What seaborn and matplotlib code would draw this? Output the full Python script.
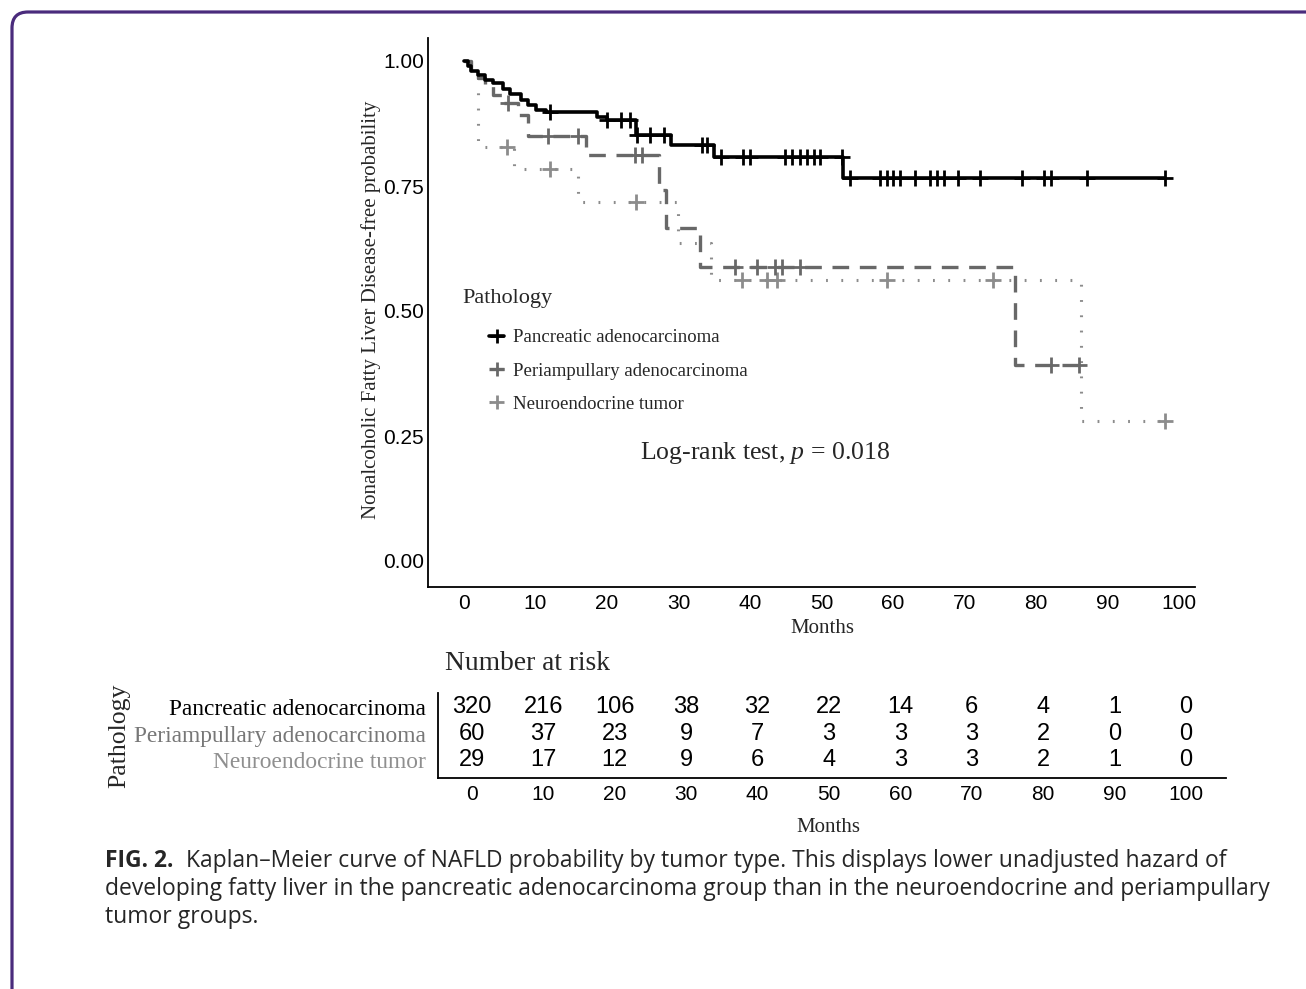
import numpy as np
import pandas as pd
import matplotlib
matplotlib.use("Agg")
import matplotlib.pyplot as plt
import seaborn as sns
from matplotlib.lines import Line2D
from matplotlib.patches import FancyBboxPatch
from matplotlib.transforms import IdentityTransform

# ---------------- data ----------------
groups = ["Pancreatic adenocarcinoma", "Periampullary adenocarcinoma", "Neuroendocrine tumor"]

panc_times = [0, 0.5, 1, 2, 3, 4, 5.5, 6.5, 8, 9, 10, 11.5, 18.6, 20, 24, 29, 35, 53]
panc_surv = [1.0, 0.99, 0.98, 0.972, 0.962, 0.956, 0.945, 0.935, 0.922, 0.912, 0.902, 0.898,
             0.888, 0.882, 0.853, 0.832, 0.808, 0.766]
panc_end = 98
panc_censor = [12, 20, 22, 23.2, 24.2, 26, 28, 33.3, 34, 36, 39, 40, 44.9, 45.9, 47, 48, 49, 49.8,
               52.9, 54, 58.2, 59.2, 60, 61, 63.1, 65.2, 66.2, 67.1, 69.1, 72.2, 78, 81.1, 82.1, 87.1, 98]

peri_times = [0, 1, 2, 3, 4, 5.5, 7.5, 9, 17, 27.2, 28.2, 33, 77]
peri_surv = [1.0, 0.983, 0.967, 0.95, 0.933, 0.916, 0.892, 0.85, 0.812, 0.742, 0.666, 0.588, 0.392]
peri_end = 86
peri_censor = [6.2, 11.8, 16, 23.9, 24.9, 37.9, 41, 43.5, 44.5, 47, 82, 86]

neuro_times = [0, 1, 2, 7, 16, 29.9, 34.5, 86.2]
neuro_surv = [1.0, 0.966, 0.828, 0.785, 0.718, 0.636, 0.562, 0.281]
neuro_end = 98
neuro_censor = [6, 12, 24, 38.9, 42.4, 43.8, 59.2, 74, 98]

risk_times = [0, 10, 20, 30, 40, 50, 60, 70, 80, 90, 100]
panc_risk = [320, 216, 106, 38, 32, 22, 14, 6, 4, 1, 0]
peri_risk = [60, 37, 23, 9, 7, 3, 3, 3, 2, 0, 0]
neuro_risk = [29, 17, 12, 9, 6, 4, 3, 3, 2, 1, 0]

x_ticks = [0, 10, 20, 30, 40, 50, 60, 70, 80, 90, 100]
y_ticks = [0.0, 0.25, 0.5, 0.75, 1.0]

# ---------------- style ----------------
sns.set_theme(style="white")
plt.rcParams["font.family"] = ["Liberation Sans", "DejaVu Sans"]
plt.rcParams["mathtext.fontset"] = "custom"
plt.rcParams["mathtext.rm"] = "Liberation Serif"
plt.rcParams["mathtext.it"] = "Liberation Serif:italic"
SERIF = ["Liberation Serif", "DejaVu Serif"]

W, H = 1306, 989
fig = plt.figure(figsize=(W / 100, H / 100), dpi=100)


def px_axes(left, top, right, bottom):
    return fig.add_axes([left / W, 1 - bottom / H, (right - left) / W, (bottom - top) / H])


colors = ["#000000", "#686868", "#8c8c8c"]
lws = [2.6, 2.4, 2.2]
dashes = [None, (5, 3.2), (0.6, 4.4)]

# ---------------- main KM axes ----------------
ax = px_axes(428, 38, 1195, 587)
ax.set_xlim(-5.03, 102.2)
ax.set_ylim(-0.052, 1.046)

series = [
    (panc_times, panc_surv, panc_end, panc_censor),
    (peri_times, peri_surv, peri_end, peri_censor),
    (neuro_times, neuro_surv, neuro_end, neuro_censor),
]

for i, (t, s, end, cens) in enumerate(series):
    df = pd.DataFrame({"Months": list(t) + [end], "Survival": list(s) + [s[-1]]})
    sns.lineplot(data=df, x="Months", y="Survival", drawstyle="steps-post", estimator=None,
                 sort=False, color=colors[i], lw=lws[i], ax=ax, zorder=3 - i)
    line = ax.lines[-1]
    if dashes[i] is not None:
        line.set_dashes(dashes[i])
        line.set_dash_capstyle("butt")
    idx = np.searchsorted(np.array(t), np.array(cens), side="right") - 1
    cy = np.array(s)[idx]
    sns.scatterplot(x=cens, y=cy, marker="+", s=120, color=colors[i], linewidth=2.0,
                    ax=ax, zorder=4 - i, legend=False)

for sp in ["top", "right"]:
    ax.spines[sp].set_visible(False)
for sp in ["left", "bottom"]:
    ax.spines[sp].set_color("black")
    ax.spines[sp].set_linewidth(1.3)

ax.set_xticks(x_ticks)
ax.set_xticklabels([str(v) for v in x_ticks], fontsize=15)
ax.set_yticks(y_ticks)
ax.set_yticklabels([f"{v:.2f}" for v in y_ticks], fontsize=15)
ax.tick_params(axis="both", direction="out", length=3, width=1, colors="black", pad=2, labelcolor="black")
ax.tick_params(axis="y", pad=0)
ax.set_xlabel("Months", family=SERIF, fontsize=15)
ax.xaxis.set_label_coords((822 - 428) / (1195 - 428), -(619 - 587) / (587 - 38))
ax.set_ylabel("Nonalcoholic Fatty Liver Disease-free probability", family=SERIF, fontsize=15)
ax.yaxis.set_label_coords(-(428 - 381) / (1195 - 428), (587 - 310) / (587 - 38))

# legend
ax.text((462 - 464) / 7.15, (561 - 298) / 500, "Pathology", family=SERIF, fontsize=16,
        ha="left", va="center")
handles = [Line2D([], [], color=colors[i], lw=lws[i], marker="+", markersize=10, mew=2,
                  dashes=dashes[i] if dashes[i] else (None, None)) for i in range(3)]
handles[0].set_linestyle("-")
ax.legend(handles, groups, loc="upper left", bbox_to_anchor=(480 / W, 1 - 320 / H),
          bbox_transform=fig.transFigure, frameon=False, handlelength=0.8, handletextpad=0.45,
          labelspacing=0.85, borderpad=0, prop={"family": SERIF, "size": 13.5})

ax.text((640 - 464) / 7.15, (561 - 453) / 500, "Log-rank test, $\\mathit{p}$ = 0.018",
        family=SERIF, fontsize=18.5, ha="left", va="center")

# ---------------- risk table ----------------
rax = px_axes(438, 693, 1226, 778)
rax.set_xlim(-4.76, 105.6)
rax.set_ylim(2.68, -0.53)
risk = [panc_risk, peri_risk, neuro_risk]
label_colors = ["#000000", "#777777", "#8f8f8f"]
for r, vals in enumerate(risk):
    for tt, v in zip(risk_times, vals):
        rax.text(tt, r, str(v), ha="center", va="center", fontsize=17, color="black")
for sp in ["top", "right"]:
    rax.spines[sp].set_visible(False)
for sp in ["left", "bottom"]:
    rax.spines[sp].set_color("black")
    rax.spines[sp].set_linewidth(1.3)
rax.set_xticks(risk_times)
rax.set_xticklabels([str(v) for v in risk_times], fontsize=15)
rax.set_yticks([0, 1, 2])
rax.set_yticklabels(groups, family=SERIF, fontsize=16.8)
rax.tick_params(axis="both", direction="out", length=3, width=1, colors="black", pad=2)
rax.tick_params(axis="y", pad=6)
for lab, c in zip(rax.get_yticklabels(), label_colors):
    lab.set_color(c)
rax.set_xlabel("Months", family=SERIF, fontsize=15)
rax.xaxis.set_label_coords((828 - 438) / (1226 - 438), -(818 - 778) / (778 - 693))
rax.set_ylabel("Pathology", family=SERIF, fontsize=18.5)
rax.yaxis.set_label_coords(-(438 - 130) / (1226 - 438), (778 - 736) / (778 - 693))

fig.text(445 / W, 1 - 663 / H, "Number at risk", family=SERIF, fontsize=19.8, ha="left", va="center")

# ---------------- caption ----------------
cap_font = ["Open Sans", "DejaVu Sans"]
CAP = 16.5
fig.text(105 / W, 1 - 861 / H, "FIG. 2.", family=cap_font, fontsize=CAP, fontweight="bold",
         ha="left", va="center")
fig.text(186 / W, 1 - 861 / H,
         "Kaplan\u2013Meier curve of NAFLD probability by tumor type. This displays lower unadjusted hazard of",
         family=cap_font, fontsize=CAP, ha="left", va="center")
fig.text(105 / W, 1 - 889 / H,
         "developing fatty liver in the pancreatic adenocarcinoma group than in the neuroendocrine and periampullary",
         family=cap_font, fontsize=CAP, ha="left", va="center")
fig.text(105 / W, 1 - 917 / H, "tumor groups.", family=cap_font, fontsize=CAP, ha="left", va="center")

# ---------------- purple frame ----------------
frame = FancyBboxPatch((12, -40), W + 40, H - 12 + 40, boxstyle="round,pad=0,rounding_size=16",
                       transform=IdentityTransform(), fill=False, ec="#4a2b7c", lw=2.3)
fig.add_artist(frame)

fig.savefig("out.png", dpi=100)
